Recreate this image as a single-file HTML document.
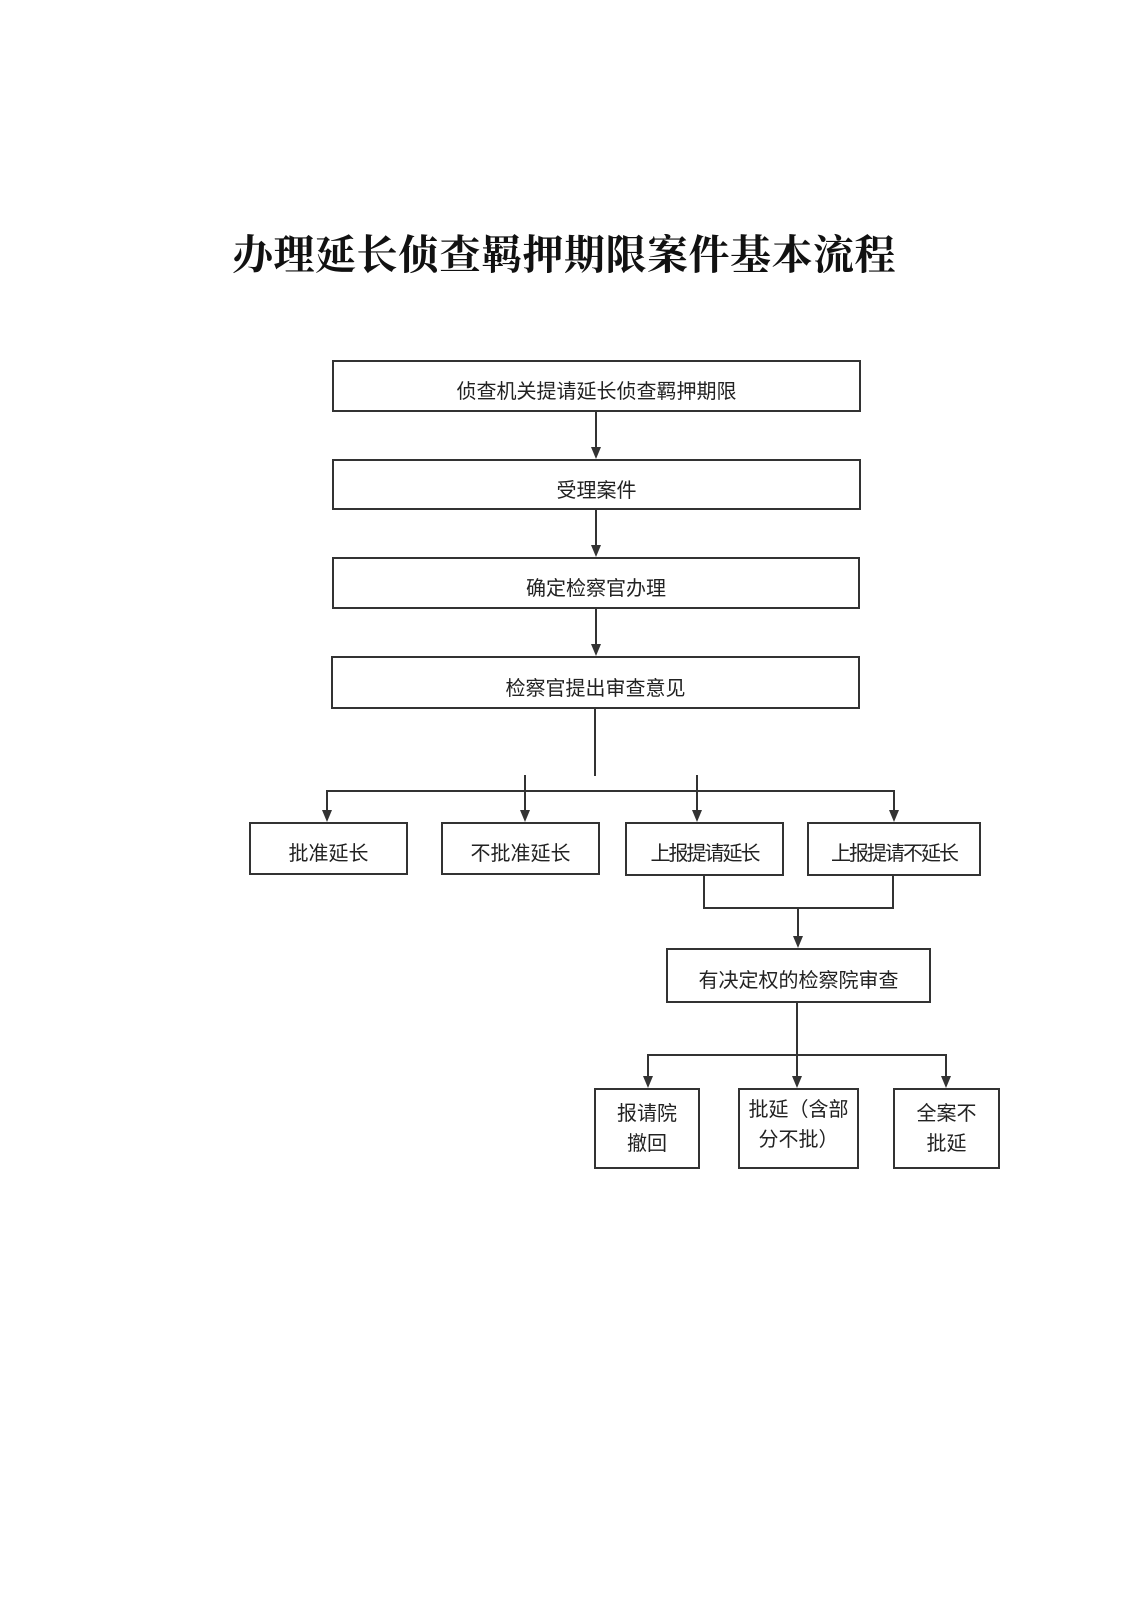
<!DOCTYPE html>
<html><head><meta charset="utf-8"><style>
body{margin:0;width:1131px;height:1600px;background:#fff;position:relative;overflow:hidden;font-family:"Liberation Sans","Noto Sans CJK SC",sans-serif;color:#222}
.t{position:absolute;left:232px;top:222px;font-family:"Liberation Serif","Noto Serif CJK SC",serif;font-weight:bold;font-size:41px;letter-spacing:0.5px;white-space:nowrap;color:#111}
.b{position:absolute;border:2px solid #333;box-sizing:border-box;display:flex;align-items:center;justify-content:center;text-align:center;font-size:20px;line-height:30px}
</style></head><body>
<div class="t">办理延长侦查羁押期限案件基本流程</div>
<div class="b" style="left:332px;top:360px;width:529px;height:52px;padding-top:12px">侦查机关提请延长侦查羁押期限</div>
<div class="b" style="left:332px;top:459px;width:529px;height:51px;padding-top:12px">受理案件</div>
<div class="b" style="left:332px;top:557px;width:528px;height:52px;padding-top:12px">确定检察官办理</div>
<div class="b" style="left:331px;top:656px;width:529px;height:53px;padding-top:12px">检察官提出审查意见</div>
<div class="b" style="left:249px;top:822px;width:159px;height:53px;padding-top:10px">批准延长</div>
<div class="b" style="left:441px;top:822px;width:159px;height:53px;padding-top:10px">不批准延长</div>
<div class="b" style="left:625px;top:822px;width:159px;height:54px;padding-top:10px;letter-spacing:-2px">上报提请延长</div>
<div class="b" style="left:807px;top:822px;width:174px;height:54px;padding-top:10px;letter-spacing:-2px">上报提请不延长</div>
<div class="b" style="left:666px;top:948px;width:265px;height:55px;padding-top:10px">有决定权的检察院审查</div>
<div class="b" style="left:594px;top:1088px;width:106px;height:81px">报请院<br>撤回</div>
<div class="b" style="left:738px;top:1088px;width:121px;height:81px;padding-bottom:8px">批延（含部<br>分不批）</div>
<div class="b" style="left:893px;top:1088px;width:107px;height:81px">全案不<br>批延</div>
<svg width="1131" height="1600" style="position:absolute;left:0;top:0" fill="none" stroke="#333" stroke-width="2">
<g>
<line x1="596" y1="412" x2="596" y2="450"/>
<line x1="596" y1="510" x2="596" y2="548"/>
<line x1="596" y1="609" x2="596" y2="647"/>
<line x1="595" y1="709" x2="595" y2="776"/>
<line x1="327" y1="791" x2="894" y2="791"/>
<line x1="327" y1="790" x2="327" y2="812"/>
<line x1="525" y1="775" x2="525" y2="812"/>
<line x1="697" y1="775" x2="697" y2="812"/>
<line x1="894" y1="790" x2="894" y2="812"/>
<polyline points="704,876 704,908 893,908 893,876"/>
<line x1="798" y1="908" x2="798" y2="938"/>
<line x1="797" y1="1003" x2="797" y2="1078"/>
<polyline points="648,1078 648,1055 946,1055 946,1078"/>
</g>
<g fill="#333" stroke="none">
<polygon points="591,447 601,447 596,459"/>
<polygon points="591,545 601,545 596,557"/>
<polygon points="591,644 601,644 596,656"/>
<polygon points="322,810 332,810 327,822"/>
<polygon points="520,810 530,810 525,822"/>
<polygon points="692,810 702,810 697,822"/>
<polygon points="889,810 899,810 894,822"/>
<polygon points="793,936 803,936 798,948"/>
<polygon points="643,1076 653,1076 648,1088"/>
<polygon points="792,1076 802,1076 797,1088"/>
<polygon points="941,1076 951,1076 946,1088"/>
</g>
</svg>
</body></html>
